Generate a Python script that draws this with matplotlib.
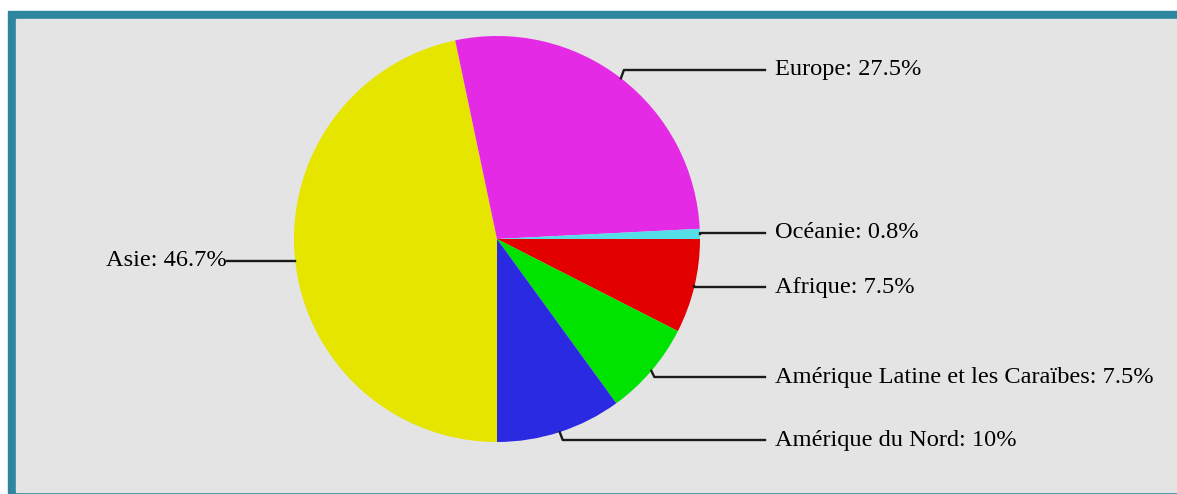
#Population mondiale par region
import numpy as np
import matplotlib.pyplot as plt
from matplotlib.patches import Rectangle

regions = ["Asie", "Europe", "Océanie", "Afrique",
           "Amérique Latine et les Caraïbes", "Amérique du Nord"]
valeurs = [46.7, 27.5, 0.8, 7.5, 7.5, 10]
etiquettes = ["46.7%", "27.5%", "0.8%", "7.5%", "7.5%", "10%"]
couleurs = ["#e5e500", "#e52ae5", "#55dde8", "#e20000", "#00e200", "#2a2ae2"]

W, H = 1177, 494
fig = plt.figure(figsize=(W / 100, H / 100), dpi=100)
ax = fig.add_axes([0, 0, 1, 1])

# cadre
ax.add_patch(Rectangle((8, 0), W - 8, H - 11, color="#2e869e", zorder=0))
ax.add_patch(Rectangle((16, 2), W - 16, 492 - 19, color="#e4e4e4", zorder=1))

cx, cy, r = 497, H - 239, 203
parts, _ = ax.pie(valeurs, colors=couleurs, startangle=270, counterclock=False,
                  center=(cx, cy), radius=r, frame=True,
                  wedgeprops=dict(linewidth=0, zorder=2))

# position verticale des etiquettes (pixels depuis le haut)
y_etiq = [261, 70, 233, 287, 377, 440]

for p, nom, lab, ye in zip(parts, regions, etiquettes, y_etiq):
    a = np.deg2rad((p.theta1 + p.theta2) / 2)
    x0 = cx + r * np.cos(a)
    y0 = cy + r * np.sin(a)
    y1 = H - ye
    txt = nom + ": " + lab
    if np.cos(a) >= 0:
        x1 = x0 + 3 if abs(y1 - y0) > 3 else x0
        ax.plot([x0, x1, 765], [y0, y1, y1], color="#1a1a1a", lw=1.7, zorder=3)
        ax.text(775, y1, txt, ha="left", va="center", fontsize=17.6,
                family="Liberation Serif", color="black", zorder=4)
    else:
        ax.plot([x0, 227], [y1, y1], color="#1a1a1a", lw=1.7, zorder=3)
        ax.text(227, y1, txt, ha="right", va="center", fontsize=17.6,
                family="Liberation Serif", color="black", zorder=4)

ax.set_xlim(0, W)
ax.set_ylim(0, H)
ax.set_aspect("auto")
ax.set_axis_off()

plt.savefig("out.png", dpi=100, facecolor="white")
